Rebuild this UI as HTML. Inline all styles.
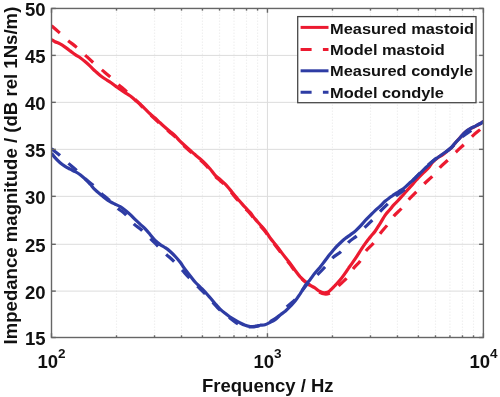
<!DOCTYPE html>
<html><head><meta charset="utf-8"><style>
html,body{margin:0;padding:0;background:#fff;}
svg{display:block;will-change:transform;}
text{font-family:"Liberation Sans",sans-serif;font-weight:bold;fill:#111;}
.g{stroke:#dcdcdc;stroke-width:1;}
.mg{stroke:#f0f0f0;stroke-width:1.2;stroke-dasharray:1.5 1.5;}
</style></head><body>
<svg width="500" height="397" viewBox="0 0 500 397">
<rect width="500" height="397" fill="#fff"/>
<line x1="116.51" y1="8.45" x2="116.51" y2="337.5" class="mg"/>
<line x1="154.53" y1="8.45" x2="154.53" y2="337.5" class="mg"/>
<line x1="181.51" y1="8.45" x2="181.51" y2="337.5" class="mg"/>
<line x1="202.44" y1="8.45" x2="202.44" y2="337.5" class="mg"/>
<line x1="219.54" y1="8.45" x2="219.54" y2="337.5" class="mg"/>
<line x1="234.00" y1="8.45" x2="234.00" y2="337.5" class="mg"/>
<line x1="246.52" y1="8.45" x2="246.52" y2="337.5" class="mg"/>
<line x1="257.57" y1="8.45" x2="257.57" y2="337.5" class="mg"/>
<line x1="332.46" y1="8.45" x2="332.46" y2="337.5" class="mg"/>
<line x1="370.48" y1="8.45" x2="370.48" y2="337.5" class="mg"/>
<line x1="397.46" y1="8.45" x2="397.46" y2="337.5" class="mg"/>
<line x1="418.39" y1="8.45" x2="418.39" y2="337.5" class="mg"/>
<line x1="435.49" y1="8.45" x2="435.49" y2="337.5" class="mg"/>
<line x1="449.95" y1="8.45" x2="449.95" y2="337.5" class="mg"/>
<line x1="462.47" y1="8.45" x2="462.47" y2="337.5" class="mg"/>
<line x1="473.52" y1="8.45" x2="473.52" y2="337.5" class="mg"/>
<line x1="267.45" y1="8.45" x2="267.45" y2="337.5" class="g"/>
<line x1="51.5" y1="291.10" x2="483.4" y2="291.10" class="g"/>
<line x1="51.5" y1="244.30" x2="483.4" y2="244.30" class="g"/>
<line x1="51.5" y1="196.35" x2="483.4" y2="196.35" class="g"/>
<line x1="51.5" y1="149.35" x2="483.4" y2="149.35" class="g"/>
<line x1="51.5" y1="102.35" x2="483.4" y2="102.35" class="g"/>
<line x1="51.5" y1="55.40" x2="483.4" y2="55.40" class="g"/>
<g clip-path="url(#clip)">
<path d="M51.5,39.5 C52.1,39.9 53.6,41.0 55.0,41.7 C56.4,42.4 58.4,43.0 60.1,43.9 C61.8,44.8 63.4,45.9 65.1,47.1 C66.8,48.3 68.5,49.6 70.2,50.9 C71.9,52.1 73.5,53.5 75.2,54.6 C76.9,55.8 78.5,56.6 80.2,57.8 C81.9,59.0 83.6,60.4 85.3,61.8 C87.0,63.2 88.7,64.8 90.3,66.3 C91.9,67.8 93.4,69.5 95.1,71.0 C96.8,72.5 98.5,74.2 100.2,75.5 C101.9,76.8 103.5,77.9 105.2,79.0 C106.9,80.1 108.5,80.9 110.2,82.1 C111.9,83.2 113.6,84.7 115.3,85.9 C117.0,87.1 118.7,88.4 120.3,89.5 C121.9,90.6 123.4,91.6 125.0,92.6 C126.6,93.6 128.3,94.5 130.0,95.7 C131.7,96.9 133.3,98.5 135.0,99.9 C136.7,101.3 138.3,102.4 140.0,103.9 C141.7,105.4 143.3,107.3 145.0,108.9 C146.7,110.5 148.3,112.2 150.0,113.7 C151.7,115.2 153.3,116.5 155.0,118.0 C156.7,119.5 158.3,121.3 160.0,122.8 C161.7,124.3 163.3,125.8 165.0,127.2 C166.7,128.7 168.3,130.1 170.0,131.5 C171.7,132.9 173.3,134.1 175.0,135.7 C176.7,137.3 178.3,139.5 180.0,141.2 C181.7,142.9 183.3,144.3 185.0,145.8 C186.7,147.3 188.3,148.7 190.0,150.2 C191.7,151.7 193.3,153.2 195.0,154.6 C196.7,156.0 198.3,157.3 200.0,158.8 C201.7,160.3 203.3,161.7 205.0,163.4 C206.7,165.1 208.3,166.9 210.0,168.8 C211.7,170.8 213.3,173.3 215.0,175.1 C216.7,176.9 218.3,178.0 220.0,179.5 C221.7,181.0 223.3,182.2 225.0,183.9 C226.7,185.6 228.3,187.6 230.0,189.6 C231.7,191.6 233.3,193.9 235.0,195.9 C236.7,197.9 238.3,199.6 240.0,201.5 C241.7,203.4 243.3,205.4 245.0,207.2 C246.7,209.0 248.3,210.4 250.0,212.4 C251.7,214.4 253.3,216.9 255.0,218.9 C256.7,220.9 258.3,222.6 260.0,224.5 C261.7,226.4 263.3,228.0 265.0,230.2 C266.7,232.4 268.3,235.4 270.0,237.7 C271.7,240.0 273.3,241.8 275.0,243.9 C276.7,246.0 278.3,248.3 280.0,250.5 C281.7,252.7 283.3,254.9 285.0,257.0 C286.7,259.1 288.3,261.1 290.0,263.3 C291.7,265.5 293.3,268.0 295.0,270.2 C296.7,272.4 298.3,274.7 300.0,276.6 C301.7,278.4 303.3,280.0 305.0,281.4 C306.7,282.8 308.4,284.1 310.0,285.1 C311.6,286.2 313.0,286.8 314.5,287.7 C316.0,288.7 317.4,290.0 318.8,290.9 C320.2,291.7 321.7,292.4 323.2,292.7 C324.7,292.9 326.3,292.7 327.6,292.2 C328.9,291.7 329.9,290.6 331.1,289.6 C332.3,288.5 333.5,287.1 334.7,285.9 C335.9,284.6 337.0,283.4 338.2,282.1 C339.4,280.8 340.5,279.5 341.7,278.0 C342.9,276.5 344.0,274.9 345.2,273.2 C346.4,271.5 347.8,269.3 348.8,267.8 C349.9,266.3 350.2,265.9 351.5,264.1 C352.8,262.3 354.8,259.5 356.5,256.9 C358.2,254.4 359.9,251.4 361.6,248.9 C363.3,246.3 365.1,243.8 366.6,241.7 C368.1,239.7 369.3,238.3 370.7,236.5 C372.1,234.8 373.5,233.4 375.1,231.2 C376.7,229.0 378.5,226.0 380.2,223.3 C381.9,220.6 383.6,217.4 385.2,215.1 C386.8,212.8 388.7,211.2 390.0,209.6 C391.3,208.0 391.9,207.0 393.1,205.6 C394.3,204.3 395.8,203.0 397.1,201.5 C398.4,200.1 399.8,198.6 401.1,197.1 C402.5,195.6 403.9,194.1 405.2,192.5 C406.5,191.0 407.9,189.5 409.2,188.1 C410.5,186.6 411.9,185.1 413.2,183.6 C414.5,182.1 415.8,180.5 417.2,179.1 C418.6,177.6 420.0,176.0 421.3,174.8 C422.6,173.5 423.6,172.7 425.0,171.3 C426.4,170.0 428.2,168.1 429.5,166.6 C430.8,165.1 431.3,163.6 432.7,162.1 C434.1,160.7 436.1,159.0 437.8,157.7 C439.5,156.4 441.1,155.8 442.8,154.6 C444.5,153.4 446.4,151.8 447.9,150.6 C449.4,149.3 450.8,148.3 452.0,147.1 C453.2,145.9 453.7,144.8 455.1,143.2 C456.5,141.6 458.5,139.3 460.2,137.5 C461.9,135.7 463.5,133.7 465.2,132.3 C466.9,130.9 468.5,129.9 470.2,128.9 C471.9,127.9 473.6,127.2 475.3,126.3 C477.0,125.4 478.9,124.5 480.3,123.7 C481.7,122.9 483.0,121.8 483.5,121.4" fill="none" stroke="#ec1a30" stroke-width="3.2" stroke-linejoin="round"/>
<path d="M51.5,25.8 C52.8,26.9 56.7,30.2 59.4,32.6 C62.1,35.0 64.8,37.8 67.6,40.2 C70.4,42.6 73.6,44.7 76.4,47.1 C79.2,49.5 81.9,52.1 84.6,54.6 C87.3,57.1 90.0,59.7 92.8,62.2 C95.6,64.7 98.6,67.1 101.4,69.5 C104.2,71.9 106.9,74.0 109.6,76.4 C112.3,78.8 115.0,81.5 117.8,84.0 C120.6,86.5 124.1,89.3 126.6,91.6 C129.1,93.8 130.8,95.4 133.0,97.5 C135.2,99.6 138.0,102.3 140.0,104.3 C142.0,106.4 143.3,108.2 145.0,109.9 C146.7,111.6 148.3,113.2 150.0,114.7 C151.7,116.2 153.3,117.5 155.0,119.0 C156.7,120.5 158.3,122.3 160.0,123.8 C161.7,125.3 163.3,126.7 165.0,128.2 C166.7,129.6 168.3,131.1 170.0,132.5 C171.7,133.9 173.3,135.1 175.0,136.7 C176.7,138.3 178.3,140.5 180.0,142.2 C181.7,143.9 183.3,145.3 185.0,146.8 C186.7,148.3 188.3,149.7 190.0,151.2 C191.7,152.7 193.3,154.2 195.0,155.6 C196.7,157.0 198.3,158.3 200.0,159.8 C201.7,161.3 203.3,162.7 205.0,164.4 C206.7,166.1 208.3,167.9 210.0,169.8 C211.7,171.8 213.3,174.3 215.0,176.1 C216.7,177.9 218.3,179.0 220.0,180.5 C221.7,182.0 223.3,183.2 225.0,184.9 C226.7,186.6 228.3,188.6 230.0,190.6 C231.7,192.6 233.3,194.9 235.0,196.9 C236.7,198.9 238.3,200.6 240.0,202.5 C241.7,204.4 243.3,206.4 245.0,208.2 C246.7,210.0 248.3,211.4 250.0,213.4 C251.7,215.4 253.3,217.9 255.0,219.9 C256.7,221.9 258.3,223.6 260.0,225.5 C261.7,227.4 263.3,229.0 265.0,231.2 C266.7,233.4 268.3,236.4 270.0,238.7 C271.7,241.0 273.3,242.8 275.0,244.9 C276.7,247.0 278.3,249.3 280.0,251.5 C281.7,253.7 283.3,255.9 285.0,258.0 C286.7,260.1 288.3,262.1 290.0,264.3 C291.7,266.5 293.3,269.1 295.0,271.2 C296.7,273.3 298.3,275.3 300.0,277.0 C301.7,278.7 303.3,280.2 305.0,281.6 C306.7,283.0 308.4,284.4 310.0,285.5 C311.6,286.6 312.9,287.4 314.5,288.5 C316.1,289.6 318.0,291.4 319.7,292.3 C321.4,293.2 323.0,293.8 324.5,294.0 C326.0,294.2 327.5,294.1 328.9,293.5 C330.3,292.9 331.4,291.7 333.0,290.5 C334.6,289.3 335.9,288.2 338.2,286.1 C340.5,284.1 344.1,281.1 346.6,278.2 C349.1,275.3 351.1,271.4 353.4,268.5 C355.7,265.6 358.2,263.8 360.3,260.9 C362.4,258.0 363.9,253.8 366.0,250.9 C368.1,248.0 370.8,246.3 373.2,243.4 C375.6,240.5 377.9,236.5 380.2,233.5 C382.5,230.5 384.8,228.2 387.1,225.3 C389.4,222.4 391.6,218.7 394.0,215.9 C396.4,213.1 399.0,211.2 401.6,208.3 C404.2,205.5 406.9,201.7 409.5,198.8 C412.1,196.0 414.5,193.8 417.0,191.2 C419.5,188.6 422.0,186.1 424.6,183.5 C427.2,180.9 430.1,178.6 432.7,175.9 C435.3,173.2 437.7,169.8 440.3,167.1 C442.9,164.4 445.8,162.2 448.5,159.6 C451.2,157.0 453.8,154.1 456.4,151.6 C459.0,149.1 461.2,147.2 463.9,144.6 C466.6,142.0 470.0,138.3 472.7,135.8 C475.4,133.3 478.5,131.0 480.3,129.5 C482.1,128.0 483.0,127.4 483.5,127.0" fill="none" stroke="#ec1a30" stroke-width="3.2" stroke-linejoin="round" stroke-dasharray="11 11.3"/>
<path d="M51.5,153.2 C52.1,153.9 53.6,156.0 55.0,157.6 C56.4,159.2 58.4,161.2 60.1,162.7 C61.8,164.2 63.4,165.3 65.1,166.4 C66.8,167.5 68.5,168.3 70.2,169.2 C71.9,170.1 73.5,170.8 75.2,171.7 C76.9,172.6 78.5,173.6 80.2,174.8 C81.9,176.1 83.6,177.6 85.3,179.2 C87.0,180.8 88.7,182.6 90.3,184.3 C91.9,186.1 93.4,188.1 95.0,189.7 C96.6,191.3 98.3,192.5 100.0,193.9 C101.7,195.3 103.4,197.0 105.1,198.3 C106.8,199.6 108.4,200.7 110.1,201.7 C111.8,202.7 113.5,203.4 115.2,204.2 C116.9,205.0 118.5,205.7 120.2,206.7 C121.9,207.7 123.5,208.9 125.2,210.2 C126.9,211.5 128.6,213.0 130.3,214.6 C132.0,216.2 133.6,218.1 135.3,219.7 C137.0,221.3 138.7,222.8 140.3,224.3 C141.9,225.8 143.4,226.9 145.0,228.6 C146.6,230.3 148.4,232.5 150.1,234.5 C151.8,236.5 153.4,238.8 155.1,240.5 C156.8,242.2 158.5,243.4 160.2,244.6 C161.9,245.8 163.5,246.5 165.2,247.7 C166.9,248.8 168.5,250.0 170.2,251.5 C171.9,253.0 173.6,254.7 175.3,256.5 C177.0,258.3 178.6,260.2 180.2,262.3 C181.8,264.4 183.3,267.0 185.0,269.2 C186.7,271.4 188.4,273.6 190.1,275.7 C191.8,277.8 193.4,280.1 195.1,282.0 C196.8,283.9 198.5,285.4 200.2,287.1 C201.9,288.8 203.5,290.3 205.2,292.1 C206.9,293.9 208.5,295.9 210.2,297.8 C211.9,299.7 213.5,301.8 215.2,303.7 C216.8,305.6 218.4,307.6 220.1,309.2 C221.8,310.8 223.4,312.0 225.1,313.3 C226.8,314.6 228.4,316.0 230.1,317.1 C231.8,318.2 233.5,319.2 235.2,320.2 C236.9,321.2 238.5,322.1 240.2,323.0 C241.9,323.9 243.5,324.7 245.2,325.3 C246.9,325.9 248.6,326.4 250.3,326.5 C252.0,326.6 253.6,326.4 255.3,326.2 C257.0,326.0 258.7,325.5 260.3,325.2 C261.9,325.0 263.4,325.2 265.0,324.7 C266.6,324.3 268.4,323.2 270.1,322.3 C271.8,321.5 273.4,320.8 275.1,319.6 C276.8,318.4 278.5,316.4 280.2,315.0 C281.9,313.6 283.5,312.7 285.2,311.3 C286.9,309.8 288.5,308.1 290.2,306.4 C291.9,304.6 293.6,302.9 295.3,300.8 C297.0,298.7 298.6,296.1 300.3,293.6 C302.0,291.0 303.7,287.8 305.3,285.4 C306.9,283.1 308.4,281.7 310.0,279.7 C311.6,277.6 313.3,275.1 315.0,273.0 C316.7,270.9 318.3,269.2 320.0,267.2 C321.7,265.1 323.3,262.9 325.0,260.7 C326.7,258.5 328.4,256.2 330.1,254.1 C331.8,252.0 333.4,249.9 335.1,248.1 C336.8,246.2 338.5,244.6 340.2,243.0 C341.9,241.4 343.5,239.9 345.2,238.6 C346.9,237.2 348.5,236.2 350.2,234.9 C351.9,233.7 353.6,232.6 355.3,231.1 C357.0,229.6 358.7,227.9 360.3,226.2 C361.9,224.5 363.4,222.6 365.0,220.8 C366.6,219.0 368.4,217.3 370.1,215.6 C371.8,213.9 373.4,212.2 375.1,210.6 C376.8,209.0 378.6,207.8 380.2,206.2 C381.8,204.6 383.5,202.6 385.0,201.3 C386.5,200.0 387.6,199.2 389.0,198.2 C390.4,197.2 391.8,196.1 393.1,195.2 C394.5,194.3 395.8,193.5 397.1,192.7 C398.4,191.8 399.8,191.1 401.1,190.1 C402.5,189.2 403.9,188.2 405.2,187.1 C406.5,186.0 407.9,184.6 409.2,183.4 C410.5,182.2 411.9,181.1 413.2,179.8 C414.5,178.6 415.8,177.2 417.2,175.9 C418.6,174.6 420.0,173.4 421.3,172.1 C422.6,170.8 423.7,169.6 425.2,168.2 C426.7,166.8 428.5,165.1 430.2,163.6 C431.9,162.1 433.6,160.6 435.3,159.3 C437.0,158.0 438.7,156.8 440.3,155.7 C441.9,154.5 443.6,153.5 445.2,152.3 C446.8,151.1 448.5,149.9 450.1,148.4 C451.8,146.9 453.4,144.9 455.1,143.1 C456.8,141.3 458.5,139.4 460.2,137.6 C461.9,135.8 463.5,133.6 465.2,132.1 C466.9,130.6 468.5,129.6 470.2,128.6 C471.9,127.6 473.6,126.9 475.3,126.1 C477.0,125.2 478.9,124.3 480.3,123.5 C481.7,122.7 483.0,121.6 483.5,121.2" fill="none" stroke="#2e3ca4" stroke-width="3.2" stroke-linejoin="round"/>
<path d="M51.5,148.8 C52.7,149.8 56.1,152.2 58.8,154.5 C61.5,156.8 64.8,160.2 67.6,162.7 C70.4,165.2 73.1,167.1 75.8,169.6 C78.5,172.1 81.2,175.2 84.0,177.8 C86.8,180.4 90.1,182.5 92.8,184.9 C95.5,187.3 97.3,189.8 100.0,192.3 C102.7,194.8 106.0,197.3 109.0,200.0 C112.0,202.7 115.0,206.0 117.7,208.3 C120.4,210.6 122.6,211.5 125.2,214.0 C127.8,216.5 130.7,220.8 133.4,223.5 C136.1,226.2 138.8,227.5 141.6,230.0 C144.4,232.5 147.4,235.7 150.1,238.3 C152.8,240.9 155.0,243.2 157.6,245.8 C160.2,248.4 163.2,251.5 165.8,254.0 C168.4,256.5 170.7,258.2 173.4,260.9 C176.1,263.6 179.4,267.2 182.0,270.0 C184.6,272.8 186.3,274.8 188.8,277.4 C191.3,280.0 194.3,283.1 197.0,285.8 C199.7,288.5 202.7,291.2 205.2,293.8 C207.7,296.4 209.5,298.8 212.0,301.5 C214.5,304.2 217.3,307.7 220.0,310.2 C222.7,312.7 225.1,314.3 228.2,316.6 C231.2,318.9 235.5,322.4 238.3,324.0 C241.1,325.6 242.9,325.7 245.0,326.2 C247.1,326.7 249.0,327.0 251.0,327.0 C253.0,327.0 255.0,326.7 257.0,326.2 C259.0,325.7 260.9,324.8 263.0,324.1 C265.1,323.4 266.8,323.3 269.4,321.9 C272.0,320.6 276.1,318.3 278.9,315.9 C281.7,313.5 283.6,310.2 286.4,307.4 C289.2,304.5 293.3,301.7 295.9,298.9 C298.5,296.2 299.8,293.7 302.0,290.8 C304.2,288.0 306.6,284.3 309.0,281.8 C311.4,279.2 313.9,278.0 316.6,275.5 C319.3,273.0 322.3,269.9 325.0,267.0 C327.7,264.1 329.9,260.4 332.6,257.8 C335.3,255.2 338.7,253.9 341.4,251.2 C344.1,248.5 346.4,244.4 349.0,241.8 C351.6,239.2 354.5,238.0 357.2,235.5 C359.9,233.0 362.6,229.6 365.3,226.9 C368.0,224.2 370.5,222.0 373.2,219.2 C375.9,216.4 378.7,213.0 381.4,210.2 C384.1,207.4 387.0,204.7 389.6,202.2 C392.2,199.7 394.5,197.2 397.1,195.1 C399.7,192.9 403.1,191.0 405.2,189.1 C407.3,187.2 408.4,185.2 410.0,183.4 C411.6,181.6 413.3,180.3 415.0,178.5 C416.7,176.7 418.5,174.6 420.2,172.8 C421.9,171.0 423.5,169.5 425.2,167.9 C426.9,166.3 428.5,164.8 430.2,163.3 C431.9,161.8 433.6,160.3 435.3,159.0 C437.0,157.7 438.7,156.8 440.3,155.7 C441.9,154.6 443.6,153.7 445.2,152.5 C446.8,151.3 448.5,150.2 450.1,148.8 C451.8,147.4 453.4,145.5 455.1,143.8 C456.8,142.1 458.6,140.0 460.2,138.5 C461.8,137.0 462.4,136.6 464.6,135.0 C466.8,133.4 471.2,130.4 473.4,128.9 C475.6,127.4 476.3,127.1 478.0,125.9 C479.7,124.7 482.6,122.2 483.5,121.5" fill="none" stroke="#2e3ca4" stroke-width="3.2" stroke-linejoin="round" stroke-dasharray="11 11.3"/>
</g>
<clipPath id="clip"><rect x="51.5" y="8.45" width="431.9" height="329.05"/></clipPath>
<g stroke="#666" stroke-width="1.4">
<line x1="51.5" y1="337.50" x2="55.8" y2="337.50"/>
<line x1="483.4" y1="337.50" x2="479.09999999999997" y2="337.50"/>
<line x1="51.5" y1="291.10" x2="55.8" y2="291.10"/>
<line x1="483.4" y1="291.10" x2="479.09999999999997" y2="291.10"/>
<line x1="51.5" y1="244.30" x2="55.8" y2="244.30"/>
<line x1="483.4" y1="244.30" x2="479.09999999999997" y2="244.30"/>
<line x1="51.5" y1="196.35" x2="55.8" y2="196.35"/>
<line x1="483.4" y1="196.35" x2="479.09999999999997" y2="196.35"/>
<line x1="51.5" y1="149.35" x2="55.8" y2="149.35"/>
<line x1="483.4" y1="149.35" x2="479.09999999999997" y2="149.35"/>
<line x1="51.5" y1="102.35" x2="55.8" y2="102.35"/>
<line x1="483.4" y1="102.35" x2="479.09999999999997" y2="102.35"/>
<line x1="51.5" y1="55.40" x2="55.8" y2="55.40"/>
<line x1="483.4" y1="55.40" x2="479.09999999999997" y2="55.40"/>
<line x1="51.5" y1="8.45" x2="55.8" y2="8.45"/>
<line x1="483.4" y1="8.45" x2="479.09999999999997" y2="8.45"/>
<line x1="51.50" y1="337.5" x2="51.50" y2="333.2"/>
<line x1="51.50" y1="8.45" x2="51.50" y2="12.75"/>
<line x1="116.51" y1="337.5" x2="116.51" y2="335.3"/>
<line x1="116.51" y1="8.45" x2="116.51" y2="10.649999999999999"/>
<line x1="154.53" y1="337.5" x2="154.53" y2="335.3"/>
<line x1="154.53" y1="8.45" x2="154.53" y2="10.649999999999999"/>
<line x1="181.51" y1="337.5" x2="181.51" y2="335.3"/>
<line x1="181.51" y1="8.45" x2="181.51" y2="10.649999999999999"/>
<line x1="202.44" y1="337.5" x2="202.44" y2="335.3"/>
<line x1="202.44" y1="8.45" x2="202.44" y2="10.649999999999999"/>
<line x1="219.54" y1="337.5" x2="219.54" y2="335.3"/>
<line x1="219.54" y1="8.45" x2="219.54" y2="10.649999999999999"/>
<line x1="234.00" y1="337.5" x2="234.00" y2="335.3"/>
<line x1="234.00" y1="8.45" x2="234.00" y2="10.649999999999999"/>
<line x1="246.52" y1="337.5" x2="246.52" y2="335.3"/>
<line x1="246.52" y1="8.45" x2="246.52" y2="10.649999999999999"/>
<line x1="257.57" y1="337.5" x2="257.57" y2="335.3"/>
<line x1="257.57" y1="8.45" x2="257.57" y2="10.649999999999999"/>
<line x1="267.45" y1="337.5" x2="267.45" y2="333.2"/>
<line x1="267.45" y1="8.45" x2="267.45" y2="12.75"/>
<line x1="332.46" y1="337.5" x2="332.46" y2="335.3"/>
<line x1="332.46" y1="8.45" x2="332.46" y2="10.649999999999999"/>
<line x1="370.48" y1="337.5" x2="370.48" y2="335.3"/>
<line x1="370.48" y1="8.45" x2="370.48" y2="10.649999999999999"/>
<line x1="397.46" y1="337.5" x2="397.46" y2="335.3"/>
<line x1="397.46" y1="8.45" x2="397.46" y2="10.649999999999999"/>
<line x1="418.39" y1="337.5" x2="418.39" y2="335.3"/>
<line x1="418.39" y1="8.45" x2="418.39" y2="10.649999999999999"/>
<line x1="435.49" y1="337.5" x2="435.49" y2="335.3"/>
<line x1="435.49" y1="8.45" x2="435.49" y2="10.649999999999999"/>
<line x1="449.95" y1="337.5" x2="449.95" y2="335.3"/>
<line x1="449.95" y1="8.45" x2="449.95" y2="10.649999999999999"/>
<line x1="462.47" y1="337.5" x2="462.47" y2="335.3"/>
<line x1="462.47" y1="8.45" x2="462.47" y2="10.649999999999999"/>
<line x1="473.52" y1="337.5" x2="473.52" y2="335.3"/>
<line x1="473.52" y1="8.45" x2="473.52" y2="10.649999999999999"/>
<line x1="483.40" y1="337.5" x2="483.40" y2="333.2"/>
<line x1="483.40" y1="8.45" x2="483.40" y2="12.75"/>
</g>
<rect x="51.5" y="8.45" width="431.9" height="329.05" fill="none" stroke="#666" stroke-width="1.4"/>
<g font-size="18.5">
<text x="45.5" y="345.30" text-anchor="end">15</text>
<text x="45.5" y="298.90" text-anchor="end">20</text>
<text x="45.5" y="252.10" text-anchor="end">25</text>
<text x="45.5" y="204.15" text-anchor="end">30</text>
<text x="45.5" y="157.15" text-anchor="end">35</text>
<text x="45.5" y="110.15" text-anchor="end">40</text>
<text x="45.5" y="63.20" text-anchor="end">45</text>
<text x="45.5" y="16.25" text-anchor="end">50</text>
<text x="37.50" y="367.8">10<tspan font-size="13.5" dy="-10">2</tspan></text>
<text x="253.45" y="367.8">10<tspan font-size="13.5" dy="-10">3</tspan></text>
<text x="469.40" y="367.8">10<tspan font-size="13.5" dy="-10">4</tspan></text>
</g>
<text x="267.8" y="392.1" font-size="18.5" text-anchor="middle">Frequency / Hz</text>
<text transform="translate(17.1,175.6) rotate(-90)" font-size="18.6" text-anchor="middle">Impedance magnitude / (dB rel 1Ns/m)</text>
<rect x="297.7" y="16.6" width="178.3" height="86.1" fill="#fff" stroke="#484848" stroke-width="1.3"/>
<g stroke-width="3">
<line x1="300.6" y1="27.4" x2="328.5" y2="27.4" stroke="#ec1a30"/>
<line x1="300.6" y1="49.4" x2="328.5" y2="49.4" stroke="#ec1a30" stroke-dasharray="11 11.3"/>
<line x1="300.6" y1="70.8" x2="328.5" y2="70.8" stroke="#2e3ca4"/>
<line x1="300.6" y1="92.2" x2="328.5" y2="92.2" stroke="#2e3ca4" stroke-dasharray="11 11.3"/>
</g>
<g font-size="16.4">
<text transform="translate(330.1,33.9) scale(1,0.94)">Measured mastoid</text>
<text transform="translate(330.1,55.1) scale(1,0.94)">Model mastoid</text>
<text transform="translate(330.1,76.4) scale(1,0.94)">Measured condyle</text>
<text transform="translate(330.1,97.7) scale(1,0.94)">Model condyle</text>
</g>
</svg>
</body></html>
